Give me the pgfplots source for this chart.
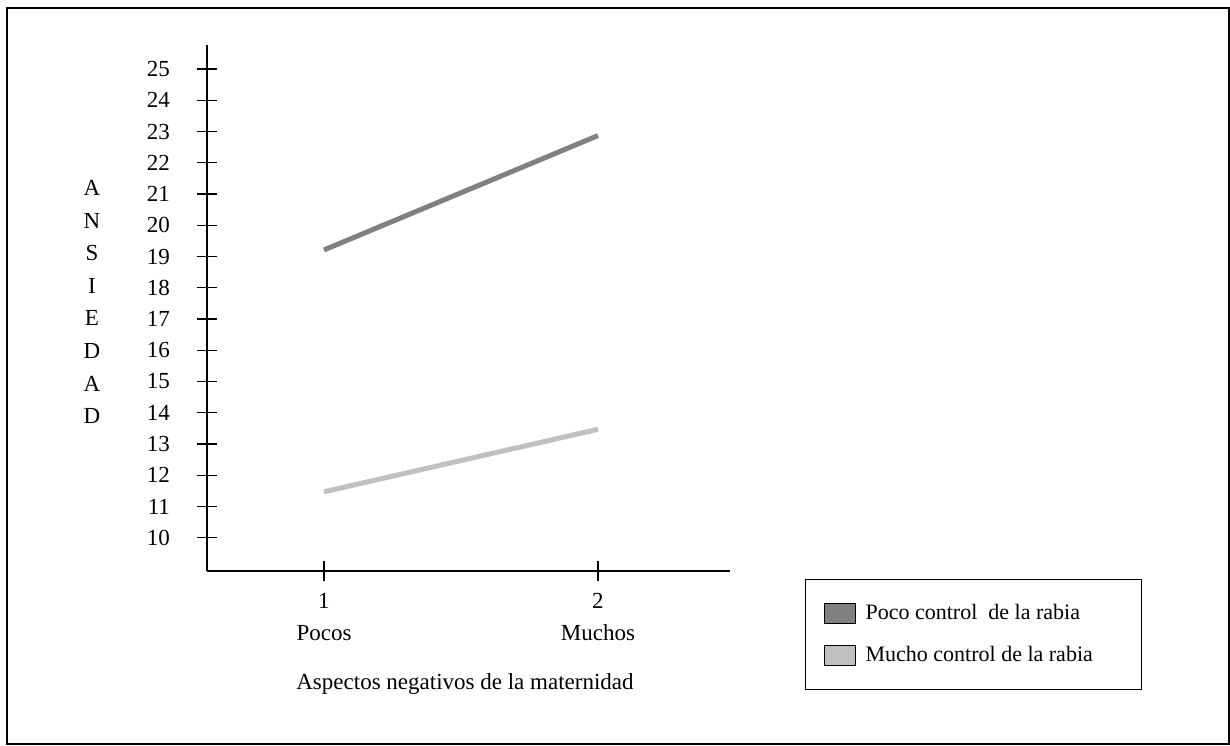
\documentclass[border=0pt]{standalone}
\usepackage{pgfplots}
\pgfplotsset{compat=1.18}
\usepackage{fontspec}
\setmainfont{Liberation Serif}
\definecolor{dk}{HTML}{808080}
\definecolor{lt}{HTML}{C0C0C0}
\begin{document}
\fontsize{11.5}{13.8}\selectfont
\begin{tikzpicture}
\useasboundingbox (0,0) rectangle (615pt,-372.5pt);
\draw[line width=1pt] (3.25pt,-3.75pt) rectangle (614.5pt,-371.75pt);
\begin{axis}[
  at={(103.5pt,-285.5pt)}, anchor=south west,
  scale only axis, width=261.5pt, height=263pt,
  xmin=0.573, xmax=2.482, ymin=8.934, ymax=25.77,
  axis lines=left, axis line style={-, line width=0.8pt},
  tick align=center, major tick length=10pt, tick style={black, line width=0.7pt},
  xtick={1,2}, xticklabels={{1\\Pocos},{2\\Muchos}},
  xticklabel style={align=center, yshift=-2pt, font=\fontsize{11.5}{16}\selectfont},
  ytick={10,...,25},
  yticklabel style={xshift=-9.5pt},
  /pgf/number format/assume math mode=true,
  ticklabel style={font=\fontsize{11.5}{13.8}\selectfont},
  every axis x label/.style={at={(rel axis cs:0.4933,-0.2262)}, anchor=base, font=\fontsize{11.5}{13.8}\selectfont},
  every axis y label/.style={at={(rel axis cs:-0.2199,0.5114)}, anchor=center, align=center, font=\fontsize{11.5}{16.3}\selectfont},
  xlabel={Aspectos negativos de la maternidad},
  ylabel={A\\N\\S\\I\\E\\D\\A\\D},
  legend style={at={(rel axis cs:1.1434,-0.0152)}, anchor=north west, draw=black, line width=0.6pt, inner xsep=9pt, inner ysep=9.5pt, row sep=6pt, column sep=3pt, cells={anchor=west}, nodes={inner sep=2pt, text height=8.5pt, text depth=2.5pt, font=\fontsize{11}{13}\selectfont}},
  legend cell align=left,
  legend image code/.code={\draw[#1, draw=black, line width=0.5pt] (0pt,-5pt) rectangle (15.5pt,5pt);},
]
\addplot[dk, line width=2.5pt, forget plot] coordinates {(1,19.21) (2,22.87)};
\addplot[lt, line width=2.5pt, forget plot] coordinates {(1,11.47) (2,13.47)};
\addlegendimage{fill=dk}
\addlegendentry{Poco control\ \ de la rabia}
\addlegendimage{fill=lt}
\addlegendentry{Mucho control de la rabia\rule{13.5pt}{0pt}}
\end{axis}
\end{tikzpicture}
\end{document}
